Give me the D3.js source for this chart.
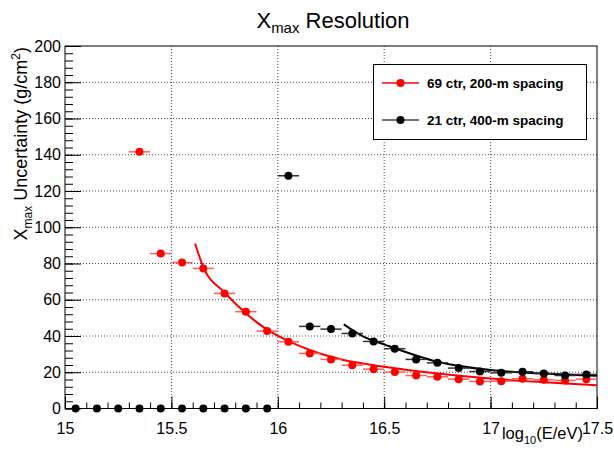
<!DOCTYPE html>
<html>
<head>
<meta charset="utf-8">
<script src="https://cdn.jsdelivr.net/npm/d3@7"></script>
<style>
  body { margin: 0; background: #fff; }
  svg { font-family: "Liberation Sans", Arial, Helvetica, sans-serif; }
  .grid line { stroke: #444; stroke-dasharray: 1,2; }
</style>
</head>
<body>
<script>
// bin centres (log10 E) and resolution values
const redX = [15.35, 15.45, 15.55, 15.65, 15.75, 15.85, 15.95, 16.05, 16.15, 16.25, 16.35,
  16.45, 16.55, 16.65, 16.75, 16.85, 16.95, 17.05, 17.15, 17.25, 17.35, 17.45];
const redY = [141.6, 85.5, 80.5, 77.3, 63.5, 53.4, 42.7, 36.8, 30.4, 27.1, 23.9,
  21.7, 20.1, 18.2, 17.5, 16.2, 14.9, 15.1, 16.4, 15.8, 15.5, 16.2];

const blackX = [15.05, 15.15, 15.25, 15.35, 15.45, 15.55, 15.65, 15.75, 15.85, 15.95,
  16.05, 16.15, 16.25, 16.35, 16.45, 16.55, 16.65, 16.75, 16.85, 16.95, 17.05, 17.15,
  17.25, 17.35, 17.45];
const blackY = [0, 0, 0, 0, 0, 0, 0, 0, 0, 0,
  128.4, 45.3, 43.8, 41.4, 37.0, 33.0, 27.1, 25.2, 22.3, 20.4, 19.7, 20.3,
  19.3, 18.2, 18.8];

// fit curves, sampled by eye along the drawn lines
const redFit = [[15.611, 91], [15.65, 78], [15.75, 64], [15.85, 52.5], [15.95, 43.5],
  [16.05, 37.2], [16.15, 32.3], [16.3, 27], [16.5, 23], [16.75, 19.3], [17.0, 16.5],
  [17.25, 14.5], [17.5, 12.8]];
const blackFit = [[16.31, 46.4], [16.4, 39.8], [16.5, 35.4], [16.75, 25.8], [17.0, 21.2],
  [17.25, 19.3], [17.5, 18.0]];

const xMajor = [15, 15.5, 16, 16.5, 17, 17.5];
const xTickLabels = ["15", "15.5", "16", "16.5", "17", "17.5"];
const yMajor = [0, 20, 40, 60, 80, 100, 120, 140, 160, 180, 200];

const legendLabels = ["69 ctr, 200-m spacing", "21 ctr, 400-m spacing"];
const binHalf = 0.05;

const width = 614, height = 453;
const padL = 65, padR = 597, padT = 46, padB = 408.5;

const svg = d3.select("body").append("svg")
  .attr("width", width)
  .attr("height", height);

const x = d3.scaleLinear().domain([15, 17.5]).range([padL, padR]);
const y = d3.scaleLinear().domain([0, 200]).range([padB, padT]);

// grid
const grid = svg.append("g").attr("class", "grid");
grid.selectAll(".gx").data(xMajor.slice(1, -1)).enter().append("line")
  .attr("x1", d => x(d)).attr("x2", d => x(d))
  .attr("y1", padT).attr("y2", padB);
grid.selectAll(".gy").data(yMajor.slice(1, -1)).enter().append("line")
  .attr("x1", padL).attr("x2", padR)
  .attr("y1", d => y(d)).attr("y2", d => y(d));

// minor ticks
const xMinor = d3.range(150, 176).map(v => v / 10);
const yMinor = d3.range(0, 201, 4);

svg.append("g")
  .attr("transform", `translate(0,${padB})`)
  .call(d3.axisBottom(x).tickValues(xMinor).tickFormat("").tickSizeInner(-6).tickSizeOuter(0))
  .call(g => g.select(".domain").remove());
svg.append("g")
  .attr("transform", `translate(${padL},0)`)
  .call(d3.axisLeft(y).tickValues(yMinor).tickFormat("").tickSizeInner(-8).tickSizeOuter(0))
  .call(g => g.select(".domain").remove());

// major ticks + labels
const xAxis = svg.append("g")
  .attr("transform", `translate(0,${padB})`)
  .call(d3.axisBottom(x).tickValues(xMajor).tickFormat((d, i) => xTickLabels[i])
    .tickSizeInner(-12).tickSizeOuter(0).tickPadding(14));
xAxis.select(".domain").remove();
xAxis.selectAll("text").attr("font-size", 16).attr("fill", "#000")
  .style("font-family", "Liberation Sans, Arial, sans-serif");

const yAxis = svg.append("g")
  .attr("transform", `translate(${padL},0)`)
  .call(d3.axisLeft(y).tickValues(yMajor).tickSizeInner(-16).tickSizeOuter(0).tickPadding(4));
yAxis.select(".domain").remove();
yAxis.selectAll("text").attr("font-size", 16).attr("fill", "#000")
  .style("font-family", "Liberation Sans, Arial, sans-serif");

// frame
svg.append("rect")
  .attr("x", padL).attr("y", padT)
  .attr("width", padR - padL).attr("height", padB - padT)
  .attr("fill", "none").attr("stroke", "#000").attr("stroke-width", 1);

// titles
const title = svg.append("text")
  .attr("x", 333).attr("y", 28)
  .attr("text-anchor", "middle")
  .attr("font-size", 22);
title.append("tspan").text("X");
title.append("tspan").attr("font-size", 15).attr("dy", 5).text("max");
title.append("tspan").attr("dy", -5).text(" Resolution");

const xTitle = svg.append("text")
  .attr("x", 583).attr("y", 439)
  .attr("text-anchor", "end")
  .attr("font-size", 16.5);
xTitle.append("tspan").text("log");
xTitle.append("tspan").attr("font-size", 11).attr("dy", 5).text("10");
xTitle.append("tspan").attr("dy", -5).text("(E/eV)");

const yTitle = svg.append("text")
  .attr("transform", `translate(27,${padT + 1}) rotate(-90)`)
  .attr("text-anchor", "end")
  .attr("font-size", 18);
yTitle.append("tspan").text("X");
yTitle.append("tspan").attr("font-size", 12).attr("dy", 5).text("max");
yTitle.append("tspan").attr("dy", -5).text(" Uncertainty (g/cm");
yTitle.append("tspan").attr("font-size", 12).attr("dy", -7).text("2");
yTitle.append("tspan").attr("dy", 7).text(")");

// fit curves
const line = d3.line().x(d => x(d[0])).y(d => y(d[1])).curve(d3.curveMonotoneX);
svg.append("path").datum(redFit).attr("d", line)
  .attr("fill", "none").attr("stroke", "#ff0000").attr("stroke-width", 2);
svg.append("path").datum(blackFit).attr("d", line)
  .attr("fill", "none").attr("stroke", "#000").attr("stroke-width", 2);

// points with horizontal bin bars
function drawSeries(xs, ys, color, barColor) {
  const pts = xs.map((v, i) => [v, ys[i]]);
  svg.append("g").selectAll("line").data(pts.filter(d => d[1] > 0)).enter().append("line")
    .attr("x1", d => x(d[0] - binHalf)).attr("x2", d => x(d[0] + binHalf))
    .attr("y1", d => y(d[1])).attr("y2", d => y(d[1]))
    .attr("stroke", barColor).attr("stroke-width", 1.5);
  svg.append("g").selectAll("circle").data(pts).enter().append("circle")
    .attr("cx", d => x(d[0])).attr("cy", d => y(d[1]))
    .attr("r", 4).attr("fill", color);
}
drawSeries(redX, redY, "#ff0000", "#ff5a5a");
drawSeries(blackX, blackY, "#000", "#333");

// legend
const legend = svg.append("g");
legend.append("rect")
  .attr("x", 373.5).attr("y", 64.5).attr("width", 213).attr("height", 75)
  .attr("fill", "#fff").attr("stroke", "#000").attr("stroke-width", 1);
const legendColors = ["#ff0000", "#000"];
const legendLineColors = ["#ff0000", "#444"];
const legendY = [83, 120];
legendLabels.forEach((lab, i) => {
  legend.append("line")
    .attr("x1", 382).attr("x2", 419).attr("y1", legendY[i]).attr("y2", legendY[i])
    .attr("stroke", legendLineColors[i]).attr("stroke-width", 1.5);
  legend.append("circle")
    .attr("cx", 400.5).attr("cy", legendY[i]).attr("r", 4).attr("fill", legendColors[i]);
  legend.append("text")
    .attr("x", 427).attr("y", legendY[i] + 5)
    .attr("font-size", 13.5).attr("font-weight", "bold")
    .text(lab);
});
</script>
</body>
</html>
